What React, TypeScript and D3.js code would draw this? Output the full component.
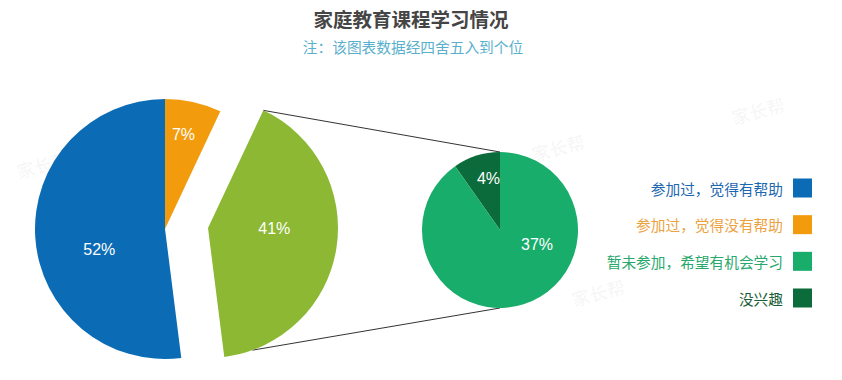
import React from "react";
import * as d3 from "d3";

const title = "家庭教育课程学习情况";
const subtitle = "注：该图表数据经四舍五入到个位";

// main pie, clockwise from 12 o'clock
const mainCategories = ["参加过，觉得没有帮助", "其他", "参加过，觉得有帮助"];
const mainValues = [7, 41, 52];
const mainLabels = ["7%", "41%", "52%"];

// secondary pie (split of the 41%)
const subCategories = ["没兴趣", "暂未参加，希望有机会学习"];
const subValues = [4, 37];
const subLabels = ["4%", "37%"];

const legendLabels = ["参加过，觉得有帮助", "参加过，觉得没有帮助", "暂未参加，希望有机会学习", "没兴趣"];

const COLORS: Record<string, string> = {
  "参加过，觉得有帮助": "#0b6cb5",
  "参加过，觉得没有帮助": "#f29b0c",
  "其他": "#8cb833",
  "暂未参加，希望有机会学习": "#18ad6b",
  "没兴趣": "#0c6b3a",
};
const TEXT_COLORS: Record<string, string> = {
  "参加过，觉得有帮助": "#1c68b0",
  "参加过，觉得没有帮助": "#eba23f",
  "暂未参加，希望有机会学习": "#27a86c",
  "没兴趣": "#1a5e36",
};

const FONT = "'Liberation Sans', 'Noto Sans CJK SC', sans-serif";
const CJK = "'Noto Sans CJK SC', sans-serif";

export default function App() {
  const W = 842, H = 380;
  const cx = 165, cy = 229, r = 130;
  const explode = { dx: 43, dy: -1 };
  const cx2 = 500, cy2 = 230, r2 = 78;

  const pie = d3.pie<number>().sort(null).value((d) => d).startAngle(0).endAngle(2 * Math.PI);
  const mainArcs = pie(mainValues);
  const arc = d3.arc<d3.PieArcDatum<number>>().innerRadius(0).outerRadius(r);

  const subTotal = d3.sum(subValues);
  const subStart = (-2 * Math.PI * subValues[0]) / subTotal;
  const pie2 = d3.pie<number>().sort(null).value((d) => d).startAngle(subStart).endAngle(subStart + 2 * Math.PI);
  const subArcs = pie2(subValues);
  const arc2 = d3.arc<d3.PieArcDatum<number>>().innerRadius(0).outerRadius(r2);

  // label placement (fraction of radius, angle nudge in degrees)
  const mainLabelPos = [
    { f: 0.74, da: -1.5 },
    { f: 0.51, da: -9 },
    { f: 0.53, da: -14 },
  ];
  const subLabelPos = [
    { f: 0.68, da: 5 },
    { f: 0.51, da: -51 },
  ];
  const polar = (ang: number, rad: number) => [Math.sin(ang) * rad, -Math.cos(ang) * rad];

  const gx = cx + explode.dx, gy = cy + explode.dy;
  const splitArc = mainArcs[1];
  const topPt = polar(splitArc.startAngle, r);
  const botPt = polar((160 * Math.PI) / 180, r);

  const legendY = d3.scalePoint<string>().domain(legendLabels).range([188, 298]);

  const watermarks = [
    { x: 760, y: 118 }, { x: 45, y: 172 }, { x: 560, y: 155 },
    { x: 600, y: 300 }, { x: 270, y: 250 }, { x: 90, y: 300 },
  ];

  return (
    <svg width={W} height={H} style={{ position: "absolute", left: 0, top: 0, background: "#fff" }}>
      <rect width={W} height={H} fill="#fff" />
      {watermarks.map((w, i) => (
        <text key={i} x={w.x} y={w.y} transform={`rotate(-15 ${w.x} ${w.y})`} textAnchor="middle"
          fontFamily={CJK} fontWeight="bold" fontSize={18} fill="#000" fillOpacity={0.04}>家长帮</text>
      ))}
      <text x={411} y={27} textAnchor="middle" fontFamily={CJK} fontWeight="bold" fontSize={19.5} fill="#454545">{title}</text>
      <text x={413} y={53} textAnchor="middle" fontFamily={CJK} fontSize={14.7} fill="#5ab0cc">{subtitle}</text>

      {/* connector lines */}
      <line x1={gx + topPt[0]} y1={gy + topPt[1]} x2={cx2} y2={cy2 - r2} stroke="#333" strokeWidth={1} />
      <line x1={gx + botPt[0]} y1={gy + botPt[1]} x2={cx2} y2={cy2 + r2} stroke="#333" strokeWidth={1} />

      {/* main pie */}
      {mainArcs.map((a, i) => {
        const isSplit = i === 1;
        const ox = isSplit ? gx : cx, oy = isSplit ? gy : cy;
        const mid = (a.startAngle + a.endAngle) / 2 + (mainLabelPos[i].da * Math.PI) / 180;
        const p = polar(mid, r * mainLabelPos[i].f);
        return (
          <g key={i} transform={`translate(${ox},${oy})`}>
            <path d={arc(a) || ""} fill={COLORS[mainCategories[i]]} />
            <text x={p[0]} y={p[1]} textAnchor="middle" dominantBaseline="central" fontFamily={FONT} fontSize={16} fill="#fff">{mainLabels[i]}</text>
          </g>
        );
      })}

      {/* secondary pie */}
      <g transform={`translate(${cx2},${cy2})`}>
        {subArcs.map((a, i) => (
          <path key={i} d={arc2(a) || ""} fill={COLORS[subCategories[i]]} />
        ))}
        {subArcs.map((a, i) => {
          const mid = (a.startAngle + a.endAngle) / 2 + (subLabelPos[i].da * Math.PI) / 180;
          const p = polar(mid, r2 * subLabelPos[i].f);
          return (
            <text key={i} x={p[0]} y={p[1]} textAnchor="middle" dominantBaseline="central" fontFamily={FONT} fontSize={16} fill="#fff">{subLabels[i]}</text>
          );
        })}
      </g>

      {/* legend */}
      {legendLabels.map((l) => {
        const y = legendY(l) || 0;
        return (
          <g key={l}>
            <text x={783} y={y} textAnchor="end" dominantBaseline="central" fontFamily={CJK} fontSize={14.7} fill={TEXT_COLORS[l]}>{l}</text>
            <rect x={793} y={y - 9.5} width={19} height={19} fill={COLORS[l]} />
          </g>
        );
      })}
    </svg>
  );
}
